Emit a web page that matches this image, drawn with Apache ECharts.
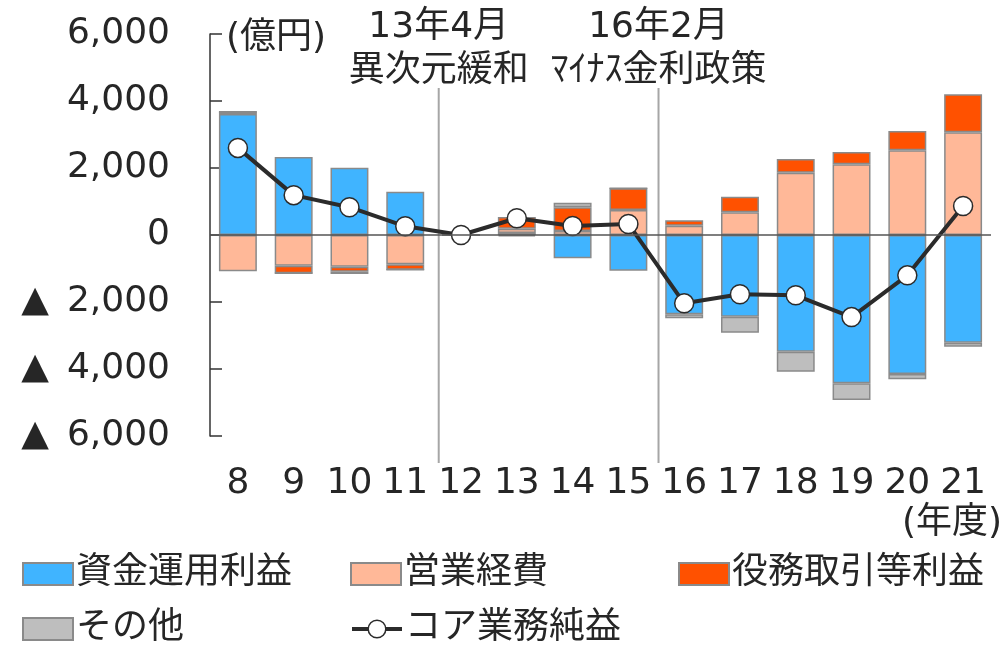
<!DOCTYPE html>
<html>
<head>
<meta charset="utf-8">
<script src="https://cdn.jsdelivr.net/npm/echarts@6/dist/echarts.min.js"></script>
<style>
  html, body { margin: 0; padding: 0; background: #fff; }
  #chart { width: 1007px; height: 646px; }
</style>
</head>
<body>
<div id="chart"></div>
<script>
// Fiscal years (年度)
const years = ['8', '9', '10', '11', '12', '13', '14', '15', '16', '17', '18', '19', '20', '21'];

// Components of core net business profit (億円)
const fundingIncome     = [3612, 2328, 2010, 1294, 0, 60, -697, -1065, -2368, -2438, -3483, -4428, -4150, -3214];
const operatingExpenses = [-1085, -916, -945, -876, 0, 130, 120, 746, 278, 677, 1860, 2110, 2527, 3065];
const feeIncome         = [70, -227, -150, -160, 0, 350, 707, 647, 160, 468, 408, 368, 577, 1134];
const otherItems        = [0, 0, -70, 0, 0, -40, 137, 0, -119, -478, -597, -498, -159, -119];
const coreProfit        = [2600, 1190, 830, 260, 0, 500, 270, 330, -2040, -1770, -1800, -2450, -1205, 866];

// Value axis ticks
const yMin = -6000, yMax = 6000, yStep = 2000;

// Policy events, placed between fiscal years (index position on the category axis)
const eventPositions = [3.6, 7.54];
const eventDates = ['13年4月', '16年2月'];
const eventNames = ['異次元緩和', 'ﾏｲﾅｽ金利政策'];

const seriesNames = ['資金運用利益', '営業経費', '役務取引等利益', 'その他', 'コア業務純益'];

const FONT = "'DejaVu Sans', 'Noto Sans CJK JP', sans-serif";
const TEXT = '#262626';
const BORDER = '#8a8a8a';

const chart = echarts.init(document.getElementById('chart'), null, { renderer: 'canvas' });

function barSeries(name, data, color, extra) {
  return Object.assign({
    name: name,
    type: 'bar',
    stack: 'total',
    barWidth: '68%',
    data: data,
    itemStyle: { color: color, borderColor: BORDER, borderWidth: 1.5 },
    emphasis: { disabled: true },
    z: 2
  }, extra || {});
}

function legendAt(name, left, top, extra) {
  return Object.assign({
    data: [name],
    left: left,
    top: top,
    padding: 0,
    icon: 'rect',
    itemWidth: 50,
    itemHeight: 22,
    itemGap: 0,
    selectedMode: false,
    textStyle: { fontSize: 36, fontFamily: FONT, color: TEXT, padding: [0, 0, 0, -2] }
  }, extra || {});
}

const option = {
  animation: false,
  backgroundColor: '#fff',
  grid: { left: 210, right: 16, top: 34, bottom: 210, containLabel: false },
  xAxis: [{
    type: 'category',
    data: years,
    axisLine: { show: false },
    axisTick: { show: false },
    axisLabel: { interval: 0, fontSize: 36, fontFamily: FONT, color: TEXT, margin: 30 }
  }],
  yAxis: [{
    type: 'value',
    min: yMin,
    max: yMax,
    interval: yStep,
    axisLine: { show: true, lineStyle: { color: '#333', width: 1.5 } },
    axisTick: { show: true, inside: true, length: 12, lineStyle: { color: '#333', width: 1.5 } },
    splitLine: { show: false },
    axisLabel: {
      fontSize: 36,
      fontFamily: FONT,
      color: TEXT,
      margin: 40,
      formatter: function (v) {
        const s = Math.abs(v).toLocaleString('en-US');
        return v < 0 ? '▲\u2002' + s : s;
      }
    }
  }],
  legend: [
    legendAt(seriesNames[0], 22, 556),
    legendAt(seriesNames[1], 350, 556),
    legendAt(seriesNames[2], 678, 556),
    legendAt(seriesNames[3], 22, 611),
    legendAt(seriesNames[4], 350, 611, {
      icon: null,
      lineStyle: { color: '#2b2b2b', width: 4 },
      itemStyle: { color: '#fff', borderColor: '#2b2b2b', borderWidth: 1.5 }
    })
  ],
  series: [
    barSeries(seriesNames[0], fundingIncome, '#40B4FF'),
    barSeries(seriesNames[1], operatingExpenses, '#FFB898'),
    barSeries(seriesNames[2], feeIncome, '#FF5100'),
    barSeries(seriesNames[3], otherItems, '#BEBEBE', {
      markLine: {
        silent: true,
        symbol: 'none',
        label: { show: false },
        lineStyle: { color: '#555', width: 1.5, type: 'solid' },
        data: [{ yAxis: 0 }]
      }
    }),
    {
      name: seriesNames[4],
      type: 'line',
      data: coreProfit,
      symbol: 'circle',
      symbolSize: 19,
      lineStyle: { color: '#2b2b2b', width: 4 },
      itemStyle: { color: '#fff', borderColor: '#2b2b2b', borderWidth: 1.5 },
      emphasis: { disabled: true },
      z: 4
    }
  ]
};

chart.setOption(option);

// Event separators and their captions, placed on the category axis scale
function catPixel(pos) {
  const i = Math.floor(pos);
  const f = pos - i;
  const a = chart.convertToPixel({ xAxisIndex: 0 }, years[i]);
  const b = chart.convertToPixel({ xAxisIndex: 0 }, years[i + 1]);
  return a + (b - a) * f;
}

const graphics = [];
eventPositions.forEach(function (p, k) {
  const x = catPixel(p);
  graphics.push({
    type: 'line',
    shape: { x1: x, y1: 88, x2: x, y2: 463 },
    style: { stroke: '#a6a6a6', lineWidth: 2 },
    z: 1,
    silent: true
  });
  graphics.push({
    type: 'text',
    x: x, y: 28,
    style: { text: eventDates[k], font: '36px ' + FONT, fill: TEXT, align: 'center', verticalAlign: 'middle' },
    z: 10
  });
  graphics.push({
    type: 'text',
    x: x, y: 72,
    style: { text: eventNames[k], font: '36px ' + FONT, fill: TEXT, align: 'center', verticalAlign: 'middle' },
    z: 10
  });
});
graphics.push({
  type: 'text', x: 226, y: 39,
  style: { text: '(億円)', font: '36px ' + FONT, fill: TEXT, align: 'left', verticalAlign: 'middle' },
  z: 10
});
graphics.push({
  type: 'text', x: 1002, y: 524,
  style: { text: '(年度)', font: '36px ' + FONT, fill: TEXT, align: 'right', verticalAlign: 'middle' },
  z: 10
});

chart.setOption({ graphic: graphics });
</script>
</body>
</html>
